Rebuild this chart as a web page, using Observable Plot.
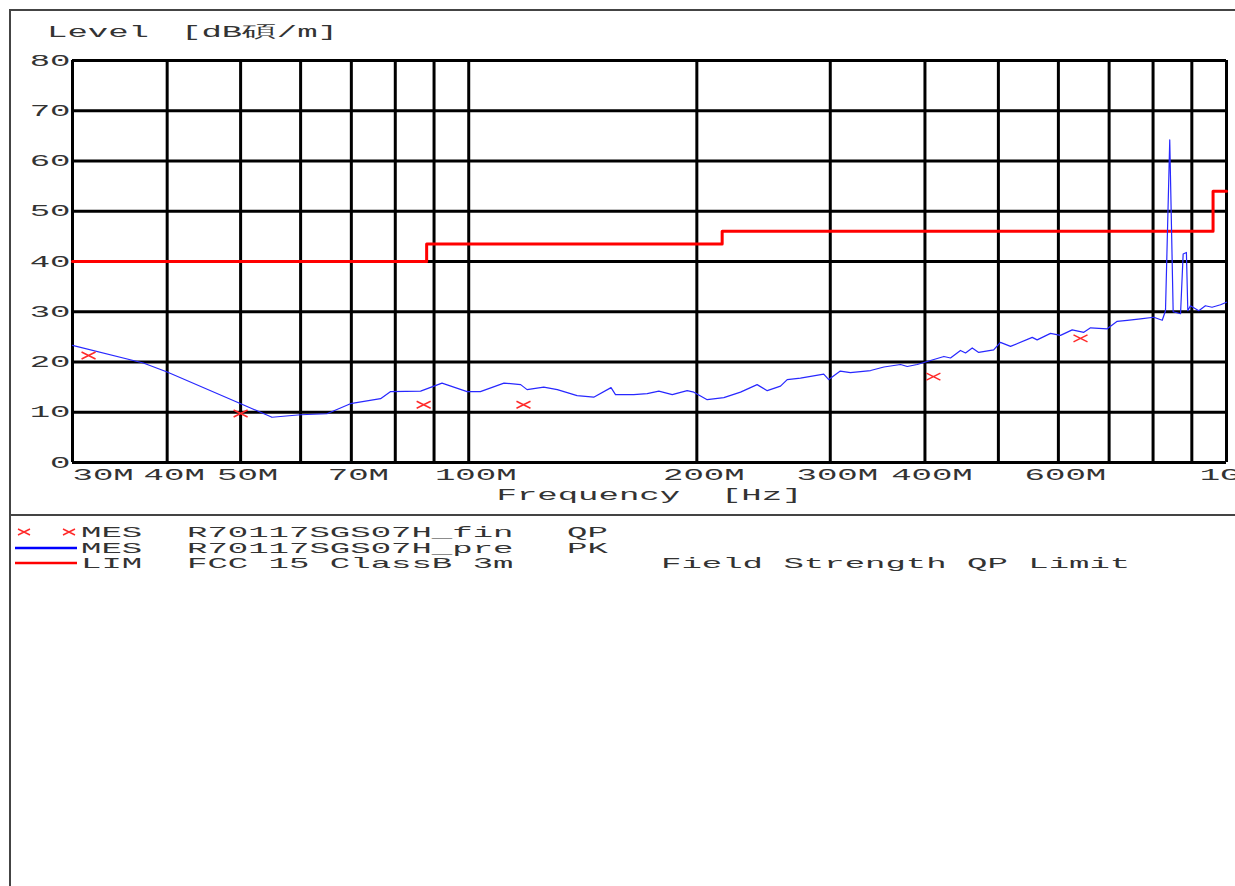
<!DOCTYPE html>
<html>
<head>
<meta charset="utf-8">
<script src="https://cdn.jsdelivr.net/npm/d3@7"></script>
<script src="https://cdn.jsdelivr.net/npm/@observablehq/plot@0.6"></script>
<style>
html, body { margin: 0; padding: 0; background: #fff; }
#wrap { position: relative; width: 1235px; height: 886px; overflow: hidden; background: #fff; }
#frame { position: absolute; left: 9px; top: 9px; width: 1400px; height: 1000px; border-left: 2px solid #444; border-top: 2px solid #444; }
#sep { position: absolute; left: 9px; top: 514px; width: 1400px; height: 2px; background: #444; }
#plot { position: absolute; left: 0; top: 40px; }
#overlay { position: absolute; left: 0; top: 0; }
</style>
</head>
<body>
<div id="wrap">
  <div id="frame"></div>
  <div id="sep"></div>
  <div id="plot"></div>
  <svg id="overlay" width="1235" height="886"></svg>
</div>
<script>
// ---- data (frequency in MHz, level in dB) ----
const peakFreq = [30.0, 37.2, 40.0, 49.5, 55.0, 60.0, 65.0, 69.8, 76.5, 78.8, 86.4, 92.2, 99.5, 103.6, 111.3, 117.1, 119.4, 125.6, 130.9, 139.0, 146.2, 154.1, 156.2, 165.1, 172.0, 178.2, 185.6, 194.2, 198.2, 206.4, 217.1, 228.4, 240.2, 247.7, 257.9, 263.2, 274.0, 294.1, 298.6, 309.3, 318.9, 339.1, 353.1, 371.4, 379.1, 390.7, 400.7, 423.7, 432.3, 445.6, 452.5, 461.8, 471.0, 492.9, 503.1, 518.8, 554.2, 562.5, 585.8, 603.9, 625.7, 648.2, 661.6, 696.0, 717.4, 739.5, 769.9, 801.7, 822.6, 830.8, 841.6, 850.4, 869.7, 876.6, 885.3, 889.1, 896.2, 919.2, 937.9, 957.0, 982.0, 1000];
const peakLevel = [23.3, 19.8, 18.0, 12.0, 9.0, 9.5, 9.7, 11.7, 12.7, 14.1, 14.2, 15.8, 14.1, 14.1, 15.8, 15.5, 14.5, 15.0, 14.5, 13.3, 13.0, 14.9, 13.5, 13.5, 13.7, 14.2, 13.5, 14.3, 14.0, 12.5, 12.9, 14.0, 15.5, 14.3, 15.2, 16.5, 16.8, 17.6, 16.5, 18.2, 17.9, 18.3, 19.0, 19.5, 19.1, 19.5, 20.0, 21.1, 20.8, 22.3, 21.8, 22.8, 21.9, 22.4, 23.9, 23.1, 24.9, 24.4, 25.7, 25.3, 26.4, 25.9, 26.8, 26.6, 28.1, 28.3, 28.6, 28.9, 28.3, 30.2, 64.2, 30.0, 29.6, 41.5, 41.8, 30.2, 31.2, 30.2, 31.2, 30.9, 31.4, 31.9];

const qpFreq = [31.5, 50.0, 87.2, 118.1, 410.4, 641.7];
const qpLevel = [21.3, 9.75, 11.5, 11.5, 17.1, 24.7];

const limitFreq = [30, 88, 216, 960, 1000];
const limitLevel = [40, 43.5, 46, 54, 54];

const gridFreqs = [30, 40, 50, 60, 70, 80, 90, 100, 200, 300, 400, 500, 600, 700, 800, 900, 1000];
const labelFreqs = [30, 40, 50, 70, 100, 200, 300, 400, 600, 1000];
const labelTexts = ["30M", "40M", "50M", "70M", "100M", "200M", "300M", "400M", "600M", "1G"];
const levelTicks = [0, 10, 20, 30, 40, 50, 60, 70, 80];

const titleLevel = "Level";
const titleUnit = "[dB碩/m]";
const xTitle = "Frequency  [Hz]";
const legendRows = [
  ["MES", "R70117SGS07H_fin", "QP", ""],
  ["MES", "R70117SGS07H_pre", "PK", ""],
  ["LIM", "FCC 15 ClassB 3m", "", "Field Strength QP Limit"]
];

// ---- build ----
const FONT = "'Liberation Mono', 'DejaVu Sans Mono', monospace";
const FS = 16;
const LFS = 14;
const PITCH = 20.4;
const trace = peakFreq.map((f, i) => ({f, v: peakLevel[i]}));
const limit = limitFreq.map((f, i) => ({f, v: limitLevel[i]}));
const qp = qpFreq.map((f, i) => ({f, v: qpLevel[i]}));
const labelMap = new Map(labelFreqs.map((f, i) => [f, labelTexts[i]]));
const wideX = {draw(ctx) { ctx.moveTo(-7, -3.5); ctx.lineTo(7, 3.5); ctx.moveTo(-7, 3.5); ctx.lineTo(7, -3.5); }};
const tickText = {tickSize: 0, tickPadding: 6, fontSize: FS, fill: "#333", label: null, tickFormat: f => labelMap.get(f)};

const chart = Plot.plot({
  width: 1235, height: 470,
  marginLeft: 72, marginRight: 9, marginTop: 20, marginBottom: 48,
  style: {fontFamily: FONT, fontSize: FS + "px", color: "#333", background: "transparent", overflow: "visible"},
  x: {type: "log", domain: [30, 1000], label: null},
  y: {domain: [0, 80], label: null},
  marks: [
    Plot.gridX(gridFreqs, {stroke: "#000", strokeOpacity: 1, strokeWidth: 3}),
    Plot.gridY(levelTicks, {stroke: "#000", strokeOpacity: 1, strokeWidth: 3}),
    Plot.line(limit, {x: "f", y: "v", curve: "step-after", stroke: "#ff0000", strokeWidth: 3}),
    Plot.line(trace, {x: "f", y: "v", stroke: "#2828ff", strokeWidth: 1.2}),
    Plot.dot(qp, {x: "f", y: "v", symbol: wideX, stroke: "#ff2a2a", strokeWidth: 1.5, fill: "none"}),
    Plot.axisY(levelTicks, {tickSize: 0, tickPadding: 2, fontSize: FS, fill: "#333", label: null}),
    Plot.axisX(labelFreqs.slice(0, 1), {...tickText, textAnchor: "start"}),
    Plot.axisX(labelFreqs.slice(1, -1), {...tickText, dx: 7}),
    Plot.axisX(labelFreqs.slice(-1), {...tickText, textAnchor: "end", dx: 14}),
    Plot.text([xTitle], {frameAnchor: "bottom", dy: 37, fontSize: FS, fill: "#333", text: d => d})
  ]
});

// stretch glyphs horizontally (wide plotter font look); vertical offsets untouched
function stretch(t, fs) {
  const sx = PITCH / (0.6 * (fs || FS));
  const xa = t.getAttribute("x");
  let x = 0;
  if (xa != null && !isNaN(+xa)) { x = +xa; t.removeAttribute("x"); }
  const tr = t.getAttribute("transform") || "";
  t.setAttribute("transform", `${tr} translate(${x},0) scale(${sx},1)`);
  t.setAttribute("xml:space", "preserve");
  t.style.whiteSpace = "pre";
}
chart.querySelectorAll("text").forEach(t => stretch(t, FS));
document.getElementById("plot").appendChild(chart);

// ---- title + legend overlay ----
const ov = d3.select("#overlay");
function addText(str, x, y, fs) {
  const t = ov.append("text")
    .attr("x", x).attr("y", y)
    .attr("font-family", FONT).attr("font-size", fs)
    .attr("fill", "#333")
    .text(str);
  stretch(t.node(), fs);
}
addText(titleLevel, 47, 37, FS);
addText(titleUnit, 181, 37, FS);

const rowY = [532, 548, 563];
const colX = [81, 187, 567, 661];
legendRows.forEach((row, r) => {
  row.forEach((s, c) => { if (s) addText(s, colX[c], rowY[r] + 5, LFS); });
});
// legend symbols
[24, 69].forEach(cx => {
  ov.append("path")
    .attr("transform", `translate(${cx},${rowY[0]})`)
    .attr("d", "M-6,-3L6,3M-6,3L6,-3")
    .attr("stroke", "#ff2a2a").attr("stroke-width", 1.5).attr("fill", "none");
});
ov.append("line").attr("x1", 15).attr("x2", 77).attr("y1", rowY[1]).attr("y2", rowY[1])
  .attr("stroke", "#0000ff").attr("stroke-width", 2.5);
ov.append("line").attr("x1", 15).attr("x2", 77).attr("y1", rowY[2]).attr("y2", rowY[2])
  .attr("stroke", "#ff0000").attr("stroke-width", 2.5);
</script>
</body>
</html>
